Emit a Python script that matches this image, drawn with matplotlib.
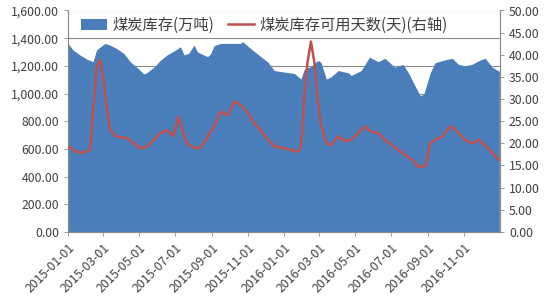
import matplotlib
matplotlib.use("Agg")
import matplotlib.pyplot as plt
import matplotlib.dates as mdates
import matplotlib.ticker as mticker
from matplotlib.patches import Patch
from matplotlib.lines import Line2D
import pandas as pd

plt.rcParams['font.family'] = ['Noto Sans CJK SC', 'DejaVu Sans']

# coal stock, 10k tons (left axis)
stock_dates = [
    "2015-01-01", "2015-01-09", "2015-01-21", "2015-02-01", "2015-02-12", "2015-02-18",
    "2015-03-04", "2015-03-13", "2015-03-24", "2015-04-05", "2015-04-16", "2015-04-27",
    "2015-05-09", "2015-05-14", "2015-05-26", "2015-06-06", "2015-06-17", "2015-07-02",
    "2015-07-10", "2015-07-16", "2015-07-24", "2015-08-02", "2015-08-08", "2015-08-19",
    "2015-08-25", "2015-08-30", "2015-09-05", "2015-09-16", "2015-10-20", "2015-10-23",
    "2015-11-06", "2015-11-23", "2015-12-05", "2015-12-16", "2016-01-02", "2016-01-19",
    "2016-01-30", "2016-02-05", "2016-02-16", "2016-02-28", "2016-03-04", "2016-03-13",
    "2016-03-21", "2016-04-02", "2016-04-19", "2016-04-24", "2016-05-11", "2016-05-25",
    "2016-06-09", "2016-06-20", "2016-07-07", "2016-07-21", "2016-07-30", "2016-08-10",
    "2016-08-19", "2016-08-25", "2016-09-05", "2016-09-13", "2016-09-30", "2016-10-12",
    "2016-10-23", "2016-11-03", "2016-11-14", "2016-11-29", "2016-12-07", "2016-12-19",
    "2016-12-31",
]
stock = [
    1360, 1315, 1278, 1250, 1230, 1315,
    1362, 1350, 1325, 1290, 1230, 1190,
    1142, 1150, 1190, 1240, 1278, 1315,
    1338, 1280, 1290, 1350, 1300, 1278,
    1267, 1287, 1345, 1362, 1362, 1375,
    1325, 1267, 1227, 1166, 1155, 1145,
    1105, 1178, 1195, 1240, 1225, 1105,
    1120, 1166, 1150, 1130, 1166, 1263,
    1230, 1255, 1190, 1210, 1150, 1057,
    984, 995, 1150, 1222, 1243, 1255,
    1210, 1200, 1210, 1243, 1255, 1190,
    1160,
]

# days of usable stock (right axis)
days_dates = [
    "2015-01-01", "2015-01-15", "2015-01-26", "2015-02-07", "2015-02-12", "2015-02-18",
    "2015-02-24", "2015-03-01", "2015-03-07", "2015-03-13", "2015-03-24", "2015-04-11",
    "2015-04-22", "2015-05-03", "2015-05-14", "2015-05-26", "2015-06-06", "2015-06-17",
    "2015-06-28", "2015-07-07", "2015-07-13", "2015-07-21", "2015-08-02", "2015-08-12",
    "2015-08-24", "2015-09-05", "2015-09-16", "2015-09-28", "2015-10-09", "2015-10-20",
    "2015-11-01", "2015-11-12", "2015-11-23", "2015-12-05", "2015-12-16", "2016-01-02",
    "2016-01-13", "2016-01-25", "2016-01-30", "2016-02-05", "2016-02-10", "2016-02-16",
    "2016-02-22", "2016-02-28", "2016-03-04", "2016-03-13", "2016-03-21", "2016-04-02",
    "2016-04-13", "2016-04-24", "2016-05-06", "2016-05-17", "2016-05-29", "2016-06-09",
    "2016-06-20", "2016-07-02", "2016-07-13", "2016-07-25", "2016-08-05", "2016-08-16",
    "2016-08-28", "2016-09-05", "2016-09-13", "2016-09-25", "2016-10-06", "2016-10-12",
    "2016-10-23", "2016-11-03", "2016-11-14", "2016-11-26", "2016-12-07", "2016-12-19",
    "2016-12-30",
]
days = [
    19.3, 18.1, 17.9, 18.5, 26.8, 37.3,
    38.8, 35.0, 28.3, 23.0, 21.5, 21.2,
    20.0, 18.9, 19.2, 20.8, 22.3, 23.0,
    21.6, 26.0, 23.0, 20.0, 19.0, 18.9,
    21.2, 23.8, 27.2, 26.3, 29.4, 28.7,
    26.9, 24.5, 23.0, 20.8, 19.3, 18.9,
    18.5, 18.1, 19.3, 30.6, 38.1, 43.0,
    38.1, 29.0, 24.2, 20.0, 19.6, 21.6,
    20.5, 20.8, 22.3, 23.8, 22.6, 22.3,
    20.8, 19.6, 18.5, 17.4, 16.3, 14.7,
    14.9, 20.0, 20.8, 21.5, 23.4, 23.8,
    22.3, 20.8, 20.0, 20.8, 19.6, 17.8,
    16.3,
]

left_ticks = [0, 200, 400, 600, 800, 1000, 1200, 1400, 1600]
right_ticks = [0, 5, 10, 15, 20, 25, 30, 35, 40, 45, 50]
tick_dates = ["2015-01-01", "2015-03-01", "2015-05-01", "2015-07-01", "2015-09-01",
              "2015-11-01", "2016-01-01", "2016-03-01", "2016-05-01", "2016-07-01",
              "2016-09-01", "2016-11-01"]

blue = "#4A7EBB"
red = "#C0504D"
grey = "#8c8c8c"

fig = plt.figure(figsize=(5.5, 3.0), dpi=100)
ax = fig.add_axes([0.124, 0.227, 0.785, 0.738])
ax2 = ax.twinx()

sd = pd.to_datetime(stock_dates)
dd = pd.to_datetime(days_dates)

ax.fill_between(sd, stock, 0, color=blue, linewidth=0, zorder=2)
ax.set_ylim(0, 1600)
ax.set_yticks(left_ticks)
ax.yaxis.set_major_formatter(mticker.FuncFormatter(lambda v, p: f"{v:,.2f}"))
ax.grid(axis="y", color=grey, linewidth=0.8, zorder=0)
ax.set_axisbelow(True)

ax2.plot(dd, days, color=red, linewidth=1.8, zorder=3)
ax2.set_ylim(0, 50)
ax2.set_yticks(right_ticks)
ax2.yaxis.set_major_formatter(mticker.FuncFormatter(lambda v, p: f"{v:.2f}"))

ax.set_xlim(pd.Timestamp("2015-01-01"), pd.Timestamp("2017-01-01"))
ax.set_xticks(pd.to_datetime(tick_dates))
ax.xaxis.set_major_formatter(mdates.DateFormatter("%Y-%m-%d"))

for a in (ax, ax2):
    a.spines["top"].set_visible(False)
    for s in ("left", "right", "bottom"):
        a.spines[s].set_color(grey)
    a.tick_params(labelsize=8.8, labelcolor="#404040", color=grey, length=3, width=0.6)

for lab in ax.get_xticklabels():
    lab.set_rotation(45)
    lab.set_ha("right")
    lab.set_rotation_mode("anchor")

handles = [Patch(facecolor=blue, edgecolor="none"),
           Line2D([0], [0], color=red, linewidth=1.8)]
labels = ["煤炭库存(万吨)", "煤炭库存可用天数(天)(右轴)"]
leg = ax2.legend(handles, labels, loc="upper left", bbox_to_anchor=(0.01, 1.01),
                 ncol=2, frameon=False, fontsize=11, handlelength=1.7,
                 handletextpad=0.35, columnspacing=0.9, borderaxespad=0.15,
                 labelcolor="#404040")

fig.savefig("out.png", dpi=100)
